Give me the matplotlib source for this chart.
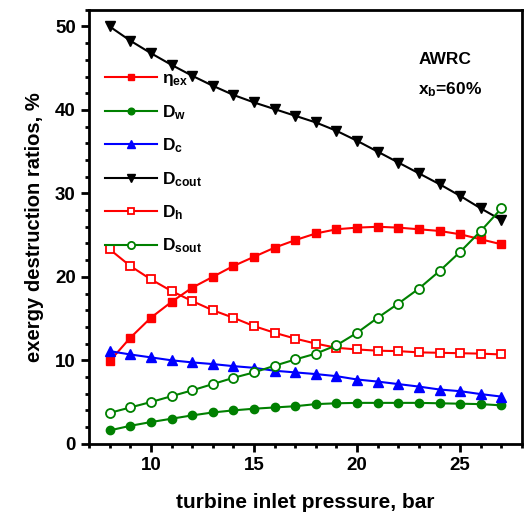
import matplotlib
matplotlib.use("Agg")
import matplotlib.pyplot as plt
from matplotlib.ticker import MultipleLocator

plt.rcParams['font.family'] = ['Liberation Sans', 'DejaVu Sans']
plt.rcParams['font.weight'] = 'bold'
plt.rcParams['mathtext.fontset'] = 'custom'
plt.rcParams['mathtext.rm'] = 'Liberation Sans:bold'
plt.rcParams['mathtext.it'] = 'Liberation Sans:bold'
plt.rcParams['mathtext.bf'] = 'Liberation Sans:bold'
plt.rcParams['mathtext.default'] = 'rm'

pressure = list(range(8, 28))

eta_ex = [9.9, 12.7, 15.1, 17.0, 18.7, 20.0, 21.3, 22.4, 23.5, 24.4,
          25.2, 25.7, 25.9, 26.0, 25.9, 25.7, 25.5, 25.1, 24.5, 23.9]
D_w = [1.6, 2.15, 2.6, 3.0, 3.4, 3.75, 4.0, 4.2, 4.35, 4.5,
       4.75, 4.85, 4.9, 4.9, 4.9, 4.9, 4.85, 4.8, 4.75, 4.6]
D_c = [11.1, 10.7, 10.35, 10.0, 9.75, 9.55, 9.3, 9.1, 8.75, 8.55,
       8.35, 8.1, 7.7, 7.45, 7.15, 6.85, 6.5, 6.3, 5.95, 5.65]
D_cout = [50.0, 48.3, 46.8, 45.4, 44.1, 42.9, 41.8, 40.9, 40.1, 39.3,
          38.5, 37.5, 36.3, 35.0, 33.7, 32.4, 31.1, 29.7, 28.2, 26.8]
D_h = [23.3, 21.3, 19.7, 18.3, 17.1, 16.0, 15.1, 14.1, 13.3, 12.6,
       12.0, 11.5, 11.3, 11.15, 11.1, 10.95, 10.9, 10.85, 10.8, 10.7]
D_sout = [3.7, 4.35, 5.0, 5.7, 6.4, 7.15, 7.9, 8.55, 9.35, 10.1,
          10.8, 11.8, 13.3, 15.1, 16.8, 18.6, 20.7, 23.0, 25.5, 28.2]

fig = plt.figure(figsize=(5.3, 5.16), dpi=100)
ax = fig.add_axes([0.168, 0.14, 0.817, 0.841])

red = '#ff0000'
green = '#008000'
blue = '#0000ff'

ax.plot(pressure, eta_ex, color=red, marker='s', ms=6, lw=1.5, label=r'$η_{ex}$')
ax.plot(pressure, D_w, color=green, marker='o', ms=6, lw=1.5, label=r'$D_{w}$')
ax.plot(pressure, D_c, color=blue, marker='^', ms=6.5, lw=1.5, label=r'$D_{c}$')
ax.plot(pressure, D_cout, color='black', marker='v', ms=6.5, lw=1.5, label=r'$D_{cout}$')
ax.plot(pressure, D_h, color=red, marker='s', ms=6, lw=1.5, mfc='white', mew=1.3,
        label=r'$D_{h}$')
ax.plot(pressure, D_sout, color=green, marker='o', ms=6.5, lw=1.5, mfc='white', mew=1.3,
        label=r'$D_{sout}$')

ax.set_xlim(7, 28)
ax.set_ylim(0, 52)
ax.xaxis.set_major_locator(MultipleLocator(5))
ax.xaxis.set_minor_locator(MultipleLocator(1))
ax.yaxis.set_major_locator(MultipleLocator(10))
ax.yaxis.set_minor_locator(MultipleLocator(2))
ax.tick_params(which='both', direction='out', width=2, labelsize=13.5)
ax.tick_params(which='major', length=6)
ax.tick_params(which='minor', length=3)
for s in ax.spines.values():
    s.set_linewidth(2)

ax.set_xlabel('turbine inlet pressure, bar', fontsize=15, fontweight='bold', labelpad=14)
ax.set_ylabel('exergy destruction ratios, %', fontsize=14.5, fontweight='bold', labelpad=8)

ax.text(0.76, 0.885, 'AWRC', transform=ax.transAxes, fontsize=12.5, fontweight='bold',
        va='center')
ax.text(0.76, 0.815, r'$x_{b}$=60%', transform=ax.transAxes, fontsize=12.5,
        fontweight='bold', va='center')

ax.legend(loc='upper left', bbox_to_anchor=(0.0, 0.895), frameon=False, fontsize=12.5,
          handlelength=3.0, labelspacing=0.85, handletextpad=0.3, markerscale=0.8)

fig.savefig('out.png', dpi=100)
